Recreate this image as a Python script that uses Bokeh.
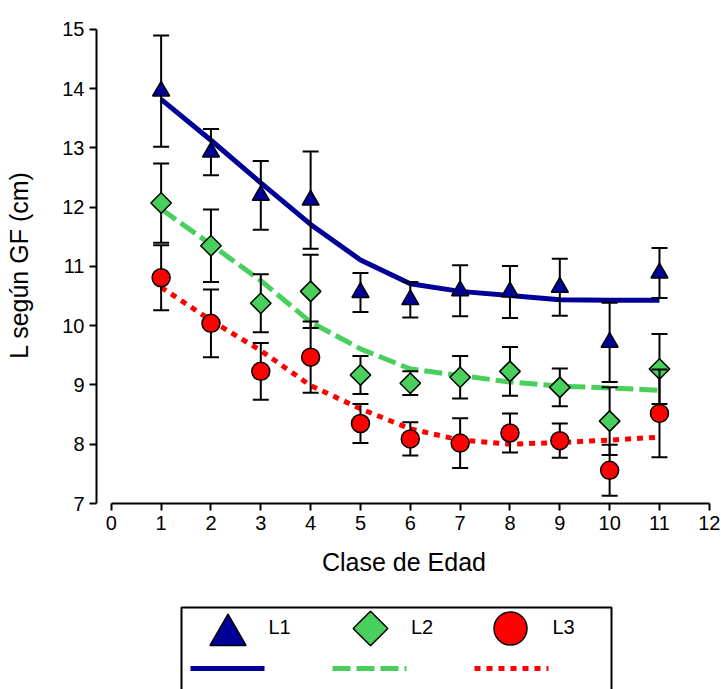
import math
from bokeh.plotting import figure
from bokeh.layouts import column
from bokeh.models import Range1d, FixedTicker
from bokeh.core.properties import value
from bokeh.embed import file_html
from bokeh.resources import INLINE

# Age classes
clase = [1, 2, 3, 4, 5, 6, 7, 8, 9, 10, 11]
x_ticks = list(range(0, 13))
y_ticks = list(range(7, 16))

series_names = ["L1", "L2", "L3"]

# Mean length (cm) per age class and its error
l1_mean = [13.96, 12.93, 12.20, 12.12, 10.56, 10.44, 10.59, 10.57, 10.65, 9.72, 10.89]
l1_err = [0.94, 0.39, 0.58, 0.82, 0.33, 0.30, 0.43, 0.44, 0.48, 0.67, 0.42]
l2_mean = [12.07, 11.35, 10.38, 10.58, 9.17, 9.03, 9.13, 9.23, 8.96, 8.39, 9.27]
l2_err = [0.67, 0.61, 0.49, 0.62, 0.32, 0.20, 0.36, 0.41, 0.32, 0.57, 0.59]
l3_mean = [10.81, 10.04, 9.23, 9.47, 8.35, 8.09, 8.02, 8.19, 8.06, 7.56, 8.52]
l3_err = [0.55, 0.57, 0.48, 0.60, 0.33, 0.28, 0.42, 0.33, 0.29, 0.43, 0.74]

# Fitted growth curves
l1_fit = [13.82, 13.13, 12.41, 11.71, 11.11, 10.71, 10.58, 10.51, 10.44, 10.43, 10.43]
l2_fit = [11.97, 11.37, 10.76, 10.06, 9.61, 9.27, 9.16, 9.05, 8.98, 8.95, 8.91]
l3_fit = [10.65, 10.09, 9.58, 8.99, 8.60, 8.26, 8.07, 8.00, 8.03, 8.07, 8.12]

FONT = "Liberation Sans"
BLUE = "#000099"
GREEN = "#48CF5C"
RED = "#FF0000"

styles = [
    dict(name=series_names[0], mean=l1_mean, err=l1_err, fit=l1_fit, color=BLUE,
         marker="triangle", angle=0.0, size=17, dash="solid"),
    dict(name=series_names[1], mean=l2_mean, err=l2_err, fit=l2_fit, color=GREEN,
         marker="square", angle=math.pi / 4, size=14.5, dash="18 6"),
    dict(name=series_names[2], mean=l3_mean, err=l3_err, fit=l3_fit, color=RED,
         marker="circle", angle=0.0, size=18, dash="6 6"),
]

BORDER_L = 96
BORDER_R = 10
WIDTH = 721

p = figure(width=WIDTH, height=600, output_backend="svg", toolbar_location=None,
           x_range=Range1d(-0.297, 12.044), y_range=Range1d(7, 15.05),
           min_border_left=BORDER_L, min_border_right=BORDER_R, min_border_top=26,
           min_border_bottom=97)
p.outline_line_color = None
p.xgrid.visible = False
p.ygrid.visible = False
p.background_fill_color = "white"
p.border_fill_color = "white"

# fitted curves underneath the points
for s in styles:
    p.line(clase, s["fit"], line_color=s["color"], line_width=5,
           line_dash=s["dash"])

for s in styles:
    upper = [m + e for m, e in zip(s["mean"], s["err"])]
    lower = [m - e for m, e in zip(s["mean"], s["err"])]
    p.segment(x0=clase, y0=lower, x1=clase, y1=upper, line_color="black",
              line_width=2)
    p.scatter(clase, upper, marker="dash", size=16, line_color="black",
              line_width=2)
    p.scatter(clase, lower, marker="dash", size=16, line_color="black",
              line_width=2)
    p.scatter(clase, s["mean"], marker=s["marker"], angle=s["angle"],
              size=s["size"], fill_color=s["color"], line_color="black",
              line_width=1.5)

for ax in (p.xaxis[0], p.yaxis[0]):
    ax.axis_line_width = 2
    ax.major_tick_line_width = 2
    ax.major_tick_out = 7
    ax.major_tick_in = 0
    ax.minor_tick_line_color = None
    ax.major_label_text_font = FONT
    ax.major_label_text_font_size = "20px"
    ax.major_label_text_color = "black"
    ax.axis_label_text_font = FONT
    ax.axis_label_text_font_size = "25px"
    ax.axis_label_text_font_style = "normal"
    ax.axis_label_text_color = "black"
    ax.major_label_standoff = 5

p.xaxis.ticker = FixedTicker(ticks=x_ticks)
p.yaxis.ticker = FixedTicker(ticks=y_ticks)
p.xaxis.bounds = (0, 12)
p.yaxis.bounds = (7, 15)
p.xaxis.axis_label = "Clase de Edad"
p.yaxis.axis_label = "L según GF (cm)"
p.xaxis.axis_label_standoff = 15
p.yaxis.axis_label_standoff = 26

# Key below the chart, in page pixel units: symbols with names on top,
# curve styles underneath
key = figure(width=WIDTH, height=89, output_backend="svg", toolbar_location=None,
             x_range=Range1d(BORDER_L, WIDTH - BORDER_R), y_range=Range1d(0, 89),
             min_border_left=BORDER_L, min_border_right=BORDER_R,
             min_border_top=0, min_border_bottom=0)
key.axis.visible = False
key.xgrid.visible = False
key.ygrid.visible = False
key.outline_line_color = None

key.quad(left=[181], right=[611], top=[82], bottom=[-10], fill_color=None,
         line_color="black", line_width=2)

key_sym_x = [227.5, 370, 510]
key_sym_y = [54.5, 61, 61]
key_sym_size = [36, 24.5, 33]
key_label_x = [268, 410.5, 552]
key_line_x = [(190, 264), (332, 406), (474, 548)]
for i, s in enumerate(styles):
    key.scatter([key_sym_x[i]], [key_sym_y[i]], marker=s["marker"],
                angle=s["angle"], size=key_sym_size[i], fill_color=s["color"],
                line_color="black", line_width=1.5)
    key.line(list(key_line_x[i]), [21, 21], line_color=s["color"],
             line_width=5, line_dash=s["dash"])
key.text(x=key_label_x, y=[62.5] * 3, text=series_names,
         text_font=value(FONT), text_font_size="20px", text_baseline="middle",
         text_align="left", text_color="black")

layout = column(p, key, spacing=0)
open("out.html", "w").write(file_html(layout, INLINE))
